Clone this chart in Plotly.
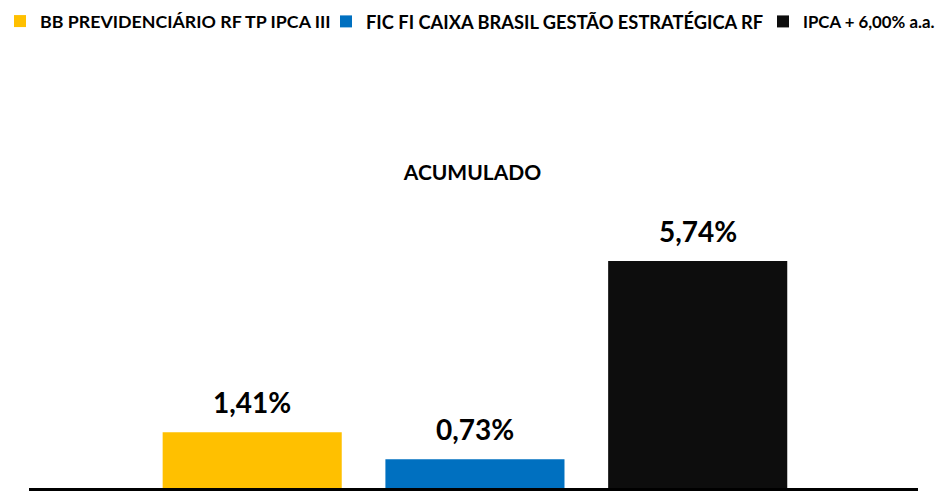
import plotly.graph_objects as go

chart_title = "ACUMULADO"
series_names = ["BB PREVIDENCIÁRIO RF TP IPCA III",
                "FIC FI CAIXA BRASIL GESTÃO ESTRATÉGICA RF",
                "IPCA + 6,00% a.a."]
series_values = [1.41, 0.73, 5.74]
colors = ["#FFC000", "#0070C0", "#0D0D0D"]

FONT = "Lato"
W, H = 945, 491
legend_ids = ["legend", "legend2", "legend3"]
legend_left_px = [0, 326, 763]       # left edge of each legend box
legend_font_sizes = [17.8, 18.3, 16.8]

fig = go.Figure()
for name, val, col, lid in zip(series_names, series_values, colors, legend_ids):
    fig.add_trace(go.Bar(
        x=[name], y=[val], name=name, width=0.804,
        marker=dict(color=col, line=dict(width=0)),
        hoverinfo="skip", legend=lid,
    ))
    fig.add_annotation(
        x=name, y=val, xref="x", yref="y",
        text=f"{val:.2f}".replace(".", ",") + "%",
        showarrow=False, yanchor="middle", yshift=30,
        font=dict(family=FONT, size=28, color="#000000", weight="bold"),
    )

legend_layout = {}
for lid, lx, fs in zip(legend_ids, legend_left_px, legend_font_sizes):
    legend_layout[lid] = dict(
        orientation="h", xref="container", x=lx / W, xanchor="left",
        yref="container", y=1 - 21.5 / H, yanchor="middle",
        font=dict(family=FONT, size=fs, color="#000000", weight="bold"),
        itemwidth=30, borderwidth=0, bgcolor="rgba(0,0,0,0)",
    )

fig.update_layout(
    width=W, height=H,
    margin=dict(l=29, r=27, t=200, b=3),
    paper_bgcolor="white", plot_bgcolor="white",
    barmode="overlay",
    showlegend=True,
    title=dict(text=chart_title, x=0.5, xanchor="center",
               yref="container", y=1 - 173 / H, yanchor="middle",
               font=dict(family=FONT, size=21, color="#000000", weight="bold")),
    font=dict(family=FONT),
    **legend_layout,
)
fig.update_xaxes(type="category", range=[-1.002, 2.989],
                 showticklabels=False, showline=True, linecolor="#000000",
                 linewidth=3, ticks="", showgrid=False)
fig.update_yaxes(range=[0, 288 / 39.55], visible=False, showgrid=False)

fig.write_html("out.html", config={"displayModeBar": False},
               post_script="document.body.style.margin='0px';")
